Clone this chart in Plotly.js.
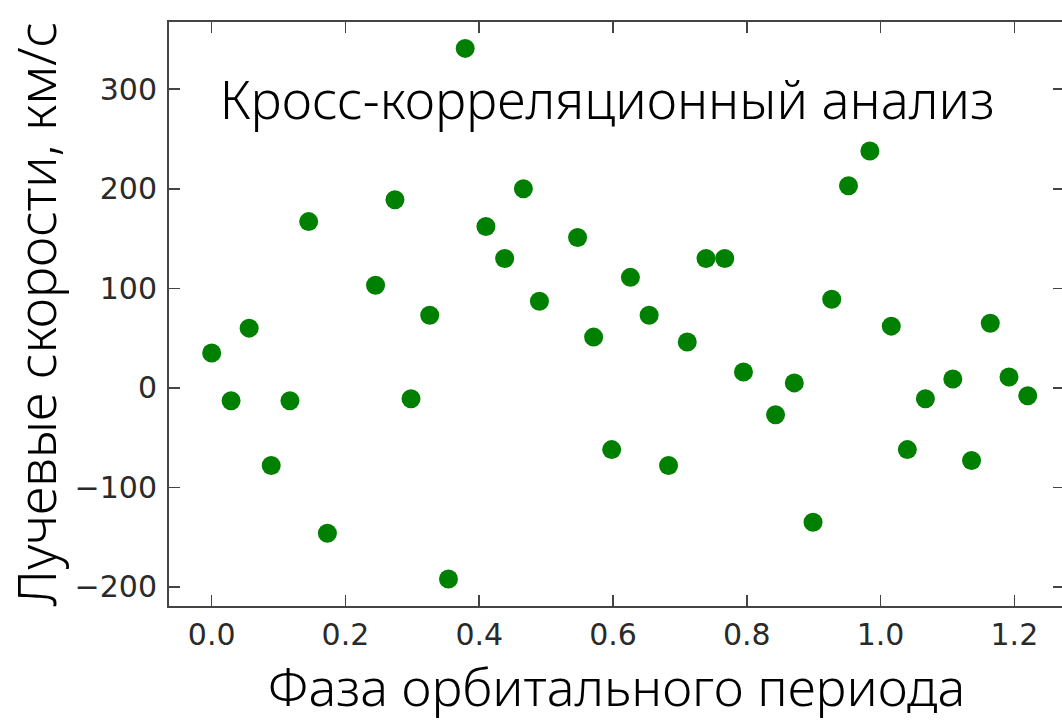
<!DOCTYPE html>
<html>
<head>
<meta charset="utf-8">
<script src="https://cdn.plot.ly/plotly-3.0.1.min.js"></script>
<style>
html, body { margin: 0; padding: 0; overflow: hidden; background: #fff; }
#chart { width: 1066px; height: 721px; }
</style>
</head>
<body>
<div id="chart"></div>
<script>
// Orbital phase (x) and radial velocity, km/s (y)
const phase = [0.000, 0.029, 0.056, 0.089, 0.117, 0.145, 0.173, 0.245, 0.274, 0.298,
  0.326, 0.354, 0.379, 0.410, 0.438, 0.466, 0.490, 0.547, 0.571, 0.598,
  0.626, 0.654, 0.683, 0.711, 0.739, 0.767, 0.795, 0.843, 0.871, 0.899,
  0.927, 0.952, 0.984, 1.016, 1.040, 1.067, 1.108, 1.136, 1.164, 1.192, 1.220];
const velocity = [35, -13, 60, -78, -13, 167, -146, 103, 189, -11,
  73, -192, 341, 162, 130, 200, 87, 151, 51, -62,
  111, 73, -78, 46, 130, 130, 16, -27, 5, -135,
  89, 203, 238, 62, -62, -11, 9, -73, 65, 11, -8];
const xTickVals = [0.0, 0.2, 0.4, 0.6, 0.8, 1.0, 1.2];
const xTickText = ['0.0', '0.2', '0.4', '0.6', '0.8', '1.0', '1.2'];
const yTickVals = [-200, -100, 0, 100, 200, 300];
const yTickText = ['\u2212200', '\u2212100', '0', '100', '200', '300'];

const titleFont = "'Noto Sans', 'Open Sans', sans-serif";
const tickFont = { family: "'DejaVu Sans', sans-serif", size: 30, color: '#2a2a2a' };

const trace = {
  x: phase,
  y: velocity,
  type: 'scatter',
  mode: 'markers',
  marker: { color: '#008000', size: 19 },
  hoverinfo: 'x+y'
};

const axisCommon = {
  showgrid: false,
  zeroline: false,
  showline: true,
  linecolor: '#444444',
  linewidth: 2,
  mirror: 'ticks',
  ticks: 'inside',
  ticklen: 11,
  tickwidth: 1.5,
  tickcolor: '#444444',
  tickfont: tickFont,
  tickmode: 'array',
  automargin: false
};

const layout = {
  width: 1066,
  height: 721,
  margin: { l: 169, r: 2, t: 22, b: 115 },
  paper_bgcolor: '#ffffff',
  plot_bgcolor: '#ffffff',
  showlegend: false,
  title: {
    text: 'Кросс-корреляционный анализ',
    font: { family: titleFont, size: 52.5, color: '#000000', weight: 300 },
    xref: 'container', yref: 'container',
    x: 607 / 1066, xanchor: 'center',
    y: 1 - 101 / 721, yanchor: 'middle'
  },
  xaxis: Object.assign({}, axisCommon, {
    range: [-0.0638, 1.2742],
    tickvals: xTickVals,
    ticktext: xTickText,
    ticklabelstandoff: 1,
    title: {
      text: 'Фаза орбитального периода',
      font: { family: titleFont, size: 52, color: '#000000', weight: 300 },
      standoff: 24
    }
  }),
  yaxis: Object.assign({}, axisCommon, {
    range: [-219.1, 367.5],
    tickvals: yTickVals,
    ticktext: yTickText,
    ticklabelstandoff: 4,
    title: {
      text: 'Лучевые скорости, км/с',
      font: { family: titleFont, size: 52.5, color: '#000000', weight: 300 },
      standoff: 26
    }
  })
};

Plotly.newPlot('chart', [trace], layout, { displayModeBar: false, staticPlot: true });
</script>
</body>
</html>
